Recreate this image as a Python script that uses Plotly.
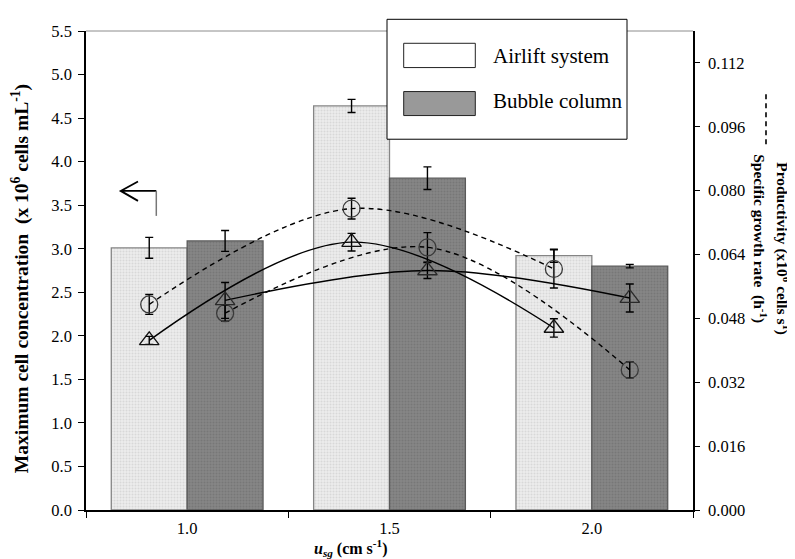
import plotly.graph_objects as go
import numpy as np

# ---------------- data ----------------
usg = ["1.0", "1.5", "2.0"]

airlift_conc = [3.01, 4.64, 2.92]
airlift_conc_err = [0.12, 0.075, 0.075]
bubble_conc = [3.09, 3.81, 2.80]
bubble_conc_err = [0.12, 0.13, 0.02]

airlift_mu = [0.0515, 0.0755, 0.0604]
airlift_mu_err = [0.0025, 0.0026, 0.0048]
bubble_mu = [0.0493, 0.0658, 0.0351]
bubble_mu_err = [0.0020, 0.0037, 0.0020]

airlift_prod = [0.0425, 0.0671, 0.0456]
airlift_prod_err = [0.0010, 0.0022, 0.0023]
bubble_prod = [0.0525, 0.0600, 0.0531]
bubble_prod_err = [0.0045, 0.0020, 0.0035]

y2_ticks = [0, 0.016, 0.032, 0.048, 0.064, 0.080, 0.096, 0.112]

# ---------------- layout geometry (pixels) ----------------
W, H = 795, 559
L, R, T, B = 78, 685, 22.7, 502
FONT = "Liberation Serif, Times New Roman, serif"

def px(x):
    return (x - L) / (R - L)

def py(y):
    return (B - y) / (B - T)

BARGAP = 0.25
half = (1 - BARGAP) / 4  # center offset of each bar inside a group
idx = np.arange(len(usg))
x_air = idx - half
x_bub = idx + half

fig = go.Figure()

# bars
fig.add_trace(go.Bar(
    x=usg, y=airlift_conc, name="Airlift system",
    marker=dict(color="#e9e9e9", line=dict(color="#858585", width=1.3),
                pattern=dict(shape=".", fgcolor="#c4c4c4", bgcolor="#ececec", size=3, solidity=0.35)),
    error_y=dict(type="data", array=airlift_conc_err, color="black", thickness=1.4, width=4),
))
fig.add_trace(go.Bar(
    x=usg, y=bubble_conc, name="Bubble column",
    marker=dict(color="#808080", line=dict(color="#5a5a5a", width=1.3),
                pattern=dict(shape=".", fgcolor="#6a6a6a", bgcolor="#858585", size=3, solidity=0.35)),
    error_y=dict(type="data", array=bubble_conc_err, color="black", thickness=1.4, width=4),
))

def line_trace(x, y, err, dash, symbol, mcolor):
    return go.Scatter(
        x=x, y=y, xaxis="x2", yaxis="y2", mode="lines+markers",
        line=dict(color="black", width=1.4, dash=dash, shape="spline", smoothing=1.0),
        marker=dict(symbol=symbol, size=17, color=mcolor, line=dict(width=1.3, color=mcolor)),
        error_y=dict(type="data", array=err, color="black", thickness=1.4, width=4),
        showlegend=False,
    )

fig.add_trace(line_trace(x_air, airlift_mu, airlift_mu_err, "5px,4px", "circle-open", "#3a3a3a"))
fig.add_trace(line_trace(x_bub, bubble_mu, bubble_mu_err, "5px,4px", "circle-open", "#3a3a3a"))
fig.add_trace(line_trace(x_air, airlift_prod, airlift_prod_err, "solid", "triangle-up-open", "#111111"))
fig.add_trace(line_trace(x_bub, bubble_prod, bubble_prod_err, "solid", "triangle-up-open", "#2a2a2a"))

shapes = []
# top frame line (gray)
shapes.append(dict(type="line", xref="paper", yref="paper", x0=0, x1=1, y0=1, y1=1,
                   line=dict(color="#8c8c8c", width=1)))
# left arrow
shapes.append(dict(type="path", xref="paper", yref="paper",
                   path=f"M{px(148.3)},{py(182.7)} L{px(112.7)},{py(182.7)} "
                        f"M{px(130)},{py(173.3)} L{px(112.7)},{py(182.7)} L{px(130)},{py(192.7)}",
                   line=dict(color="black", width=1.8)))
shapes.append(dict(type="line", xref="paper", yref="paper",
                   x0=px(148.3), x1=px(148.3), y0=py(182.7), y1=py(207.7),
                   line=dict(color="#777777", width=1.5)))
# legend box
shapes.append(dict(type="rect", xref="paper", yref="paper", layer="above",
                   x0=px(379), x1=px(619), y0=py(11), y1=py(131),
                   fillcolor="white", line=dict(color="black", width=1)))
shapes.append(dict(type="rect", xref="paper", yref="paper", layer="above",
                   x0=px(395.7), x1=px(467.3), y0=py(35), y1=py(59.3),
                   fillcolor="white", line=dict(color="#222", width=1)))
shapes.append(dict(type="rect", xref="paper", yref="paper", layer="above",
                   x0=px(395.7), x1=px(467.3), y0=py(83.3), y1=py(107.3),
                   fillcolor="#999999", line=dict(color="#222", width=1)))
# right-title line keys
shapes.append(dict(type="line", xref="paper", yref="paper",
                   x0=px(781), x1=px(781), y0=py(86), y1=py(136),
                   line=dict(color="black", width=1.6)))
shapes.append(dict(type="line", xref="paper", yref="paper",
                   x0=px(758), x1=px(758), y0=py(86), y1=py(136),
                   line=dict(color="black", width=1.6, dash="5px,4px")))

annotations = [
    dict(text="<b>Maximum cell concentration  (x 10<sup>6</sup> cells mL<sup>-1</sup>)</b>",
         xref="paper", yref="paper", x=px(12), y=py(271), textangle=-90,
         showarrow=False, font=dict(family=FONT, size=19.5, color="black"),
         xanchor="center", yanchor="middle"),
    dict(text="<b>Productivity (x10<sup>6</sup> cells s<sup>1</sup>)</b>",
         xref="paper", yref="paper", x=px(775), y=py(240), textangle=90,
         showarrow=False, font=dict(family=FONT, size=15.5, color="black"),
         xanchor="center", yanchor="middle"),
    dict(text="<b>Specific growth rate  (h<sup>-1</sup>)</b>",
         xref="paper", yref="paper", x=px(752), y=py(231), textangle=90,
         showarrow=False, font=dict(family=FONT, size=15.5, color="black"),
         xanchor="center", yanchor="middle"),
    dict(text="Airlift system", xref="paper", yref="paper", x=px(483), y=py(48),
         showarrow=False, font=dict(family=FONT, size=21, color="black"),
         xanchor="left", yanchor="middle"),
    dict(text="Bubble column", xref="paper", yref="paper", x=px(483), y=py(93),
         showarrow=False, font=dict(family=FONT, size=21, color="black"),
         xanchor="left", yanchor="middle"),
    dict(text="<b><i>u</i><sub><i>sg</i></sub> (cm s<sup>-1</sup>)</b>",
         xref="paper", yref="paper", x=px(343), y=py(553),
         showarrow=False, font=dict(family=FONT, size=16, color="black"),
         xanchor="center", yanchor="bottom"),
]

fig.update_layout(
    width=W, height=H,
    margin=dict(l=L, r=W - R, t=T, b=H - B, pad=0),
    paper_bgcolor="white", plot_bgcolor="white",
    barmode="group", bargap=BARGAP, bargroupgap=0,
    showlegend=False,
    font=dict(family=FONT, size=16, color="black"),
    xaxis=dict(type="category", categoryorder="array", categoryarray=usg,
               range=[-0.5, 2.5], showline=True, linecolor="black", linewidth=1.5,
               ticks="outside", tickson="boundaries", ticklen=6, tickcolor="black",
               ticklabelstandoff=2,
               tickfont=dict(family=FONT, size=16.5), showgrid=False, zeroline=False),
    xaxis2=dict(overlaying="x", range=[-0.5, 2.5], visible=False, showgrid=False),
    yaxis=dict(range=[0, 5.5], dtick=0.5, tickformat=".1f", showline=True,
               linecolor="black", linewidth=1.5, ticks="outside", ticklen=6,
               tickcolor="black", tickfont=dict(family=FONT, size=16.5),
               ticklabelstandoff=3,
               showgrid=False, zeroline=False),
    yaxis2=dict(overlaying="y", side="right", anchor="x2", range=[0, 0.12],
                tickvals=y2_ticks,
                tickformat=".3f", showline=True, linecolor="black", linewidth=1.5,
                ticks="outside", ticklen=5, tickcolor="black", ticklabelstandoff=5,
                tickfont=dict(family=FONT, size=16.5), showgrid=False, zeroline=False),
    shapes=shapes, annotations=annotations,
)

fig.write_html("out.html")
